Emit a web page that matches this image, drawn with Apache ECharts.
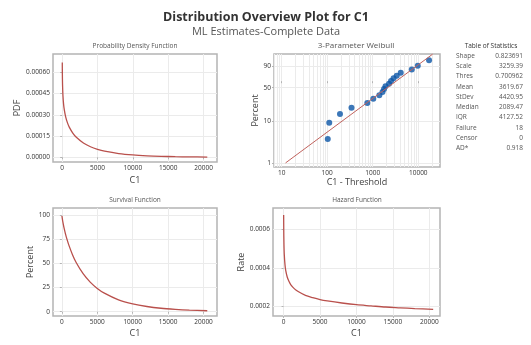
<!DOCTYPE html>
<html>
<head>
<meta charset="utf-8">
<title>Distribution Overview Plot for C1</title>
<script src="https://cdn.jsdelivr.net/npm/echarts@6/dist/echarts.min.js"></script>
<style>
html, body { margin: 0; padding: 0; background: #fff; }
#chart { width: 531px; height: 345px; }
</style>
</head>
<body>
<div id="chart"></div>
<script>
// fitted curves (x in C1)
var curveX = [13, 25, 50, 100, 200, 300, 500, 750, 1000, 1500, 2000, 3000, 4000, 5000, 6000, 8000, 10000, 12000, 14000, 16000, 18000, 20525];
var pdfValues = [0.000669, 0.000589, 0.000513, 0.000442, 0.000374, 0.000335, 0.000284, 0.000243, 0.000213, 0.000171, 0.000141, 0.000101, 0.0000746, 0.0000565, 0.0000435, 0.0000266, 0.0000167, 0.0000108, 0.0000071, 0.0000047, 0.0000031, 0.0000019];
var survivalValues = [99.0, 98.2, 96.9, 94.5, 90.5, 86.9, 80.8, 74.2, 68.6, 59.0, 51.2, 39.3, 30.6, 24.1, 19.2, 12.3, 8.1, 5.4, 3.6, 2.5, 1.7, 1.05];
var hazardValues = [0.000676, 0.000599, 0.000529, 0.000468, 0.000414, 0.000385, 0.000352, 0.000328, 0.000311, 0.000290, 0.000276, 0.000256, 0.000244, 0.000234, 0.000227, 0.000216, 0.000207, 0.000201, 0.000195, 0.000191, 0.000187, 0.000183];

// probability plot points (C1 - Threshold, percent)
var pointX = [103, 111, 191, 342, 760, 1030, 1396, 1640, 1770, 1910, 2280, 2525, 2865, 3365, 4120, 7200, 9750, 17260];
var pointPct = [3.80, 9.24, 14.67, 20.11, 25.54, 30.98, 36.41, 41.85, 47.28, 52.72, 58.15, 63.59, 69.02, 74.46, 79.89, 85.33, 90.76, 96.20];
var fitLineX = [12.2, 20824];
var fitLinePct = [1, 99];

var xTicks = [0, 5000, 10000, 15000, 20000];
var pdfTicks = [0, 0.00015, 0.0003, 0.00045, 0.0006];
var survivalTicks = [0, 25, 50, 75, 100];
var hazardTicks = [0.0002, 0.0004, 0.0006];
var pctTicks = [1, 10, 50, 90];
var logGrid = [7, 8, 9, 10, 20, 30, 40, 50, 60, 70, 80, 90, 100, 200, 300, 400, 500, 600, 700, 800, 900, 1000, 2000, 3000, 4000, 5000, 6000, 7000, 8000, 9000, 10000, 20000];

var statNames = ["Shape", "Scale", "Thres", "Mean", "StDev", "Median", "IQR", "Failure", "Censor", "AD*"];
var statValues = ["0.823691", "3259.39", "0.700962", "3619.67", "4420.95", "2089.47", "4127.52", "18", "0", "0.918"];

var FONT = "Open Sans";
var CURVE = "#b9504c";
var GRID_LINE = "#ebebeb";
var LOG_MIN = 6.8, LOG_MAX = 30000;

// weibull probability scale
var wb = function(p) {
    return Math.log(-Math.log(1 - p / 100));
};

var zip = function(a, b, f) {
    return a.map(function(v, i) { return [v, f ? f(b[i]) : b[i]]; });
};

var gridBox = function(left, top, width, height) {
    return {
        left: left, top: top, width: width, height: height,
        show: true, borderColor: "#b4b4b4", borderWidth: 1.5, backgroundColor: "#fff"
    };
};

var valueAxis = function(gi, min, max, ticks, fmt, name, gap, isY) {
    return {
        type: "value",
        gridIndex: gi,
        min: min,
        max: max,
        name: name,
        nameLocation: "middle",
        nameGap: gap,
        nameRotate: isY ? 90 : 0,
        nameTextStyle: { fontFamily: FONT, fontSize: 9, color: "#404040" },
        axisLine: { show: false },
        axisTick: { show: true, length: 2, lineStyle: { color: "#b4b4b4" }, customValues: ticks },
        axisLabel: {
            fontFamily: FONT, fontSize: 6.5, color: "#333", margin: 3,
            customValues: ticks,
            formatter: fmt
        },
        splitLine: { show: true, lineStyle: { color: GRID_LINE, width: 1 } }
    };
};

var fmtInt = function(v) { return String(Math.round(v)); };

var textEl = function(x, y, text, size, color, weight, align) {
    return {
        type: "text", x: x, y: y, silent: true,
        style: {
            text: text, fontFamily: FONT, fontSize: size, fill: color,
            fontWeight: weight || "normal", align: align || "center", verticalAlign: "middle"
        }
    };
};

var graphics = [
    textEl(266, 17, "Distribution Overview Plot for C1", 12.5, "#333", "bold"),
    textEl(266, 32, "ML Estimates-Complete Data", 11, "#555"),
    textEl(135, 46, "Probability Density Function", 6.5, "#555"),
    textEl(356, 46, "3-Parameter Weibull", 8, "#555"),
    textEl(135, 200, "Survival Function", 6.5, "#555"),
    textEl(357, 200, "Hazard Function", 6.5, "#555"),
    textEl(491, 46, "Table of Statistics", 6.5, "#333")
];
statNames.forEach(function(n, i) {
    graphics.push(textEl(456, 56 + i * 10.25, n, 6.5, "#555", "normal", "left"));
    graphics.push(textEl(523, 56 + i * 10.25, statValues[i], 6.5, "#555", "normal", "right"));
});

// log gridlines for the probability plot: hidden axis in log10 space
var logGridAxis = {
    type: "value",
    gridIndex: 1,
    min: Math.log10(LOG_MIN),
    max: Math.log10(LOG_MAX),
    axisLine: { show: false },
    axisTick: { show: false, customValues: logGrid.map(Math.log10) },
    axisLabel: { show: false, customValues: logGrid.map(Math.log10) },
    splitLine: { show: true, lineStyle: { color: GRID_LINE, width: 1 } }
};

var chart = echarts.init(document.getElementById("chart"), null, { renderer: "canvas" });
chart.setOption({
    animation: false,
    backgroundColor: "#fff",
    graphic: graphics,
    grid: [
        gridBox(53, 54, 164, 108),
        gridBox(274, 54, 166, 113),
        gridBox(53, 208, 164, 108),
        gridBox(273, 208, 167, 108)
    ],
    xAxis: [
        valueAxis(0, -1300, 21900, xTicks, fmtInt, "C1", 14, false),
        {
            type: "log",
            gridIndex: 1,
            min: LOG_MIN,
            max: LOG_MAX,
            logBase: 10,
            name: "C1 - Threshold",
            nameLocation: "middle",
            nameGap: 10,
            nameTextStyle: { fontFamily: FONT, fontSize: 9, color: "#404040" },
            axisLine: { show: false },
            axisTick: { show: true, length: 2, lineStyle: { color: "#b4b4b4" } },
            axisLabel: {
                fontFamily: FONT, fontSize: 6.5, color: "#333", margin: 3,
                showMinLabel: false, showMaxLabel: false,
                formatter: fmtInt
            },
            splitLine: { show: false }
        },
        valueAxis(2, -1250, 21900, xTicks, fmtInt, "C1", 13, false),
        valueAxis(3, -1450, 21460, xTicks, fmtInt, "C1", 13, false),
        logGridAxis
    ],
    yAxis: [
        valueAxis(0, -0.000033, 0.000729, pdfTicks, function(v) { return v.toFixed(5); }, "PDF", 31, true),
        valueAxis(1, -4.83, 1.53, pctTicks.map(function(p) { return wb(p); }), function(v) {
            return String(Math.round(100 * (1 - Math.exp(-Math.exp(v)))));
        }, "Percent", 12, true),
        valueAxis(2, -4.4, 107.2, survivalTicks, fmtInt, "Percent", 17, true),
        valueAxis(3, 0.000148, 0.000713, hazardTicks, function(v) { return v.toFixed(4); }, "Rate", 26, true)
    ],
    series: [
        {
            type: "line", xAxisIndex: 0, yAxisIndex: 0, showSymbol: false, smooth: 0.3,
            lineStyle: { color: CURVE, width: 1.3 },
            data: zip(curveX, pdfValues)
        },
        {
            type: "line", xAxisIndex: 1, yAxisIndex: 1, showSymbol: false,
            lineStyle: { color: "#c0625d", width: 1 },
            data: zip(fitLineX, fitLinePct, wb)
        },
        {
            type: "scatter", xAxisIndex: 1, yAxisIndex: 1, symbolSize: 6,
            itemStyle: { color: "#0b55a6" },
            data: zip(pointX, pointPct, wb)
        },
        {
            type: "line", xAxisIndex: 2, yAxisIndex: 2, showSymbol: false, smooth: 0.3,
            lineStyle: { color: CURVE, width: 1.3 },
            data: zip(curveX, survivalValues)
        },
        {
            type: "line", xAxisIndex: 3, yAxisIndex: 3, showSymbol: false, smooth: 0.3,
            lineStyle: { color: CURVE, width: 1.3 },
            data: zip(curveX, hazardValues)
        }
    ]
});
</script>
</body>
</html>
